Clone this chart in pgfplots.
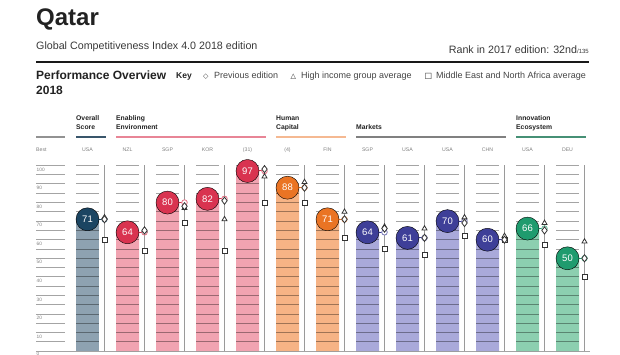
\documentclass[border=0pt]{standalone}
\usepackage{pgfplots}
\pgfplotsset{compat=1.18}
\usepackage{pgfplotstable}
\usepackage{fontspec}
\setmainfont{Liberation Sans}
\newfontfamily\sym{DejaVu Sans}

\definecolor{ovBar}{HTML}{8EA2B1}
\definecolor{ovCir}{HTML}{1B4562}
\definecolor{enBar}{HTML}{F1A3B1}
\definecolor{enCir}{HTML}{D93350}
\definecolor{hcBar}{HTML}{F6B385}
\definecolor{hcCir}{HTML}{EA7424}
\definecolor{mkBar}{HTML}{A9A9DA}
\definecolor{mkCir}{HTML}{3E3F98}
\definecolor{inBar}{HTML}{8CCFB0}
\definecolor{inCir}{HTML}{1F9B6E}
\definecolor{gridc}{HTML}{A4A4A4}
\definecolor{vline}{HTML}{9A9A9A}
\definecolor{txt}{HTML}{222222}
\definecolor{keyc}{HTML}{444444}
\definecolor{lab}{HTML}{808080}
\definecolor{mk}{HTML}{333333}

% bar centre x (px) and 2018 score
\pgfplotstableread{
x v
87.5 71
}\gOverall
\pgfplotstableread{
x v
127.5 64
167.5 80
207.5 82
247.5 97
}\gEnabling
\pgfplotstableread{
x v
287.5 88
327.5 71
}\gHuman
\pgfplotstableread{
x v
367.5 64
407.5 61
447.5 70
487.5 60
}\gMarkets
\pgfplotstableread{
x v
527.5 66
567.5 50
}\gInnov
% marker line x, previous edition, high income avg, MENA avg
\pgfplotstableread{
xm prev hi mena
104.5 71 72 60
144.5 65 65 54
184.5 78 77 69
224.5 81 71 54
264.5 98 94 80
304.5 88 91 80
344.5 71 75 61
384.5 66 67 55
424.5 61 66 52
464.5 69 72 62
504.5 60 62 60
544.5 65 69 57
584.5 50 59 40
}\markers

\newcommand\group[3]{%
  \addplot[ybar, bar width=23, bar shift=0pt, fill=#2, draw=none, blend mode=multiply] table[x=x,y=v]{#1};
  \addplot[only marks, mark=-, mark size=8.5pt, mark options={draw=#3, line width=1pt}] table[x expr=\thisrow{x}+8.5,y=v]{#1};
  \addplot[only marks, mark=*, mark size=2.8pt, mark options={fill=white, draw=#3!70, line width=0.8pt}] table[x expr=\thisrow{x}+17,y=v]{#1};
  \addplot[only marks, mark=*, mark size=11.5pt, mark options={fill=#3, draw=none},
    nodes near coords, every node near coord/.append style={anchor=center, text=white, font=\fontsize{9.5}{10}\selectfont}] table[x=x,y=v]{#1};
}

\begin{document}
\begin{tikzpicture}[x=1pt,y=1pt]
\useasboundingbox (0,0) rectangle (620,355);
% column grid lines and vertical marker lines
\foreach \c in {87.5,127.5,...,567.5}{
  \foreach \k in {5,10,...,100}{
    \draw[gridc, line width=1pt] ({\c-11.5},{3.8+1.858*\k}) -- ({\c+11.5},{3.8+1.858*\k});
  }
  \draw[vline, line width=0.8pt] ({\c+17},3.8) -- ({\c+17},189.6);
}
% Best column
\foreach \k in {5,10,...,100}{
  \draw[gridc, line width=1pt] (36,{3.8+1.858*\k}) -- (65,{3.8+1.858*\k});
}
\foreach \k in {10,20,...,100}{
  \node[anchor=west, inner sep=0, text=lab, font=\fontsize{4.8}{5}\selectfont] at (36.5,{3.8+1.858*\k-4}) {\k};
}
\node[anchor=west, inner sep=0, text=lab, font=\fontsize{4.8}{5}\selectfont] at (36.5,1.6) {0};
\draw[gridc, line width=1pt] (36,3.8) -- (590,3.8);

\begin{axis}[at={(0,0)}, anchor=south west, scale only axis, width=620pt, height=355pt,
  xmin=0, xmax=620, ymin=-2.0452, ymax=189.0215, hide axis, clip=false,
  /pgf/number format/assume math mode=true]
\group{\gOverall}{ovBar}{ovCir}
\group{\gEnabling}{enBar}{enCir}
\group{\gHuman}{hcBar}{hcCir}
\group{\gMarkets}{mkBar}{mkCir}
\group{\gInnov}{inBar}{inCir}
\addplot[only marks, mark=square*, mark size=2.5pt, mark options={fill=white, draw=mk, line width=0.8pt}] table[x=xm,y=mena]{\markers};
\addplot[only marks, mark=triangle*, mark size=2.9pt, mark options={fill=white, draw=mk, line width=0.8pt}] table[x=xm,y=hi]{\markers};
\addplot[only marks, mark=diamond*, mark size=3.6pt, mark options={fill=white, draw=mk, line width=0.8pt}] table[x=xm,y=prev]{\markers};
\end{axis}

% header
\node[anchor=base west, inner sep=0, text=txt, font=\fontsize{24}{28}\selectfont\bfseries] at (36,329) {Qatar};
\node[anchor=base west, inner sep=0, text=txt!90, font=\fontsize{10.7}{12}\selectfont] at (36,305.2) {Global Competitiveness Index 4.0 2018 edition};
\node[anchor=base east, inner sep=0, text=txt!90] at (589,301.9) {{\fontsize{10.7}{12}\selectfont Rank in 2017 edition: 32nd}{\fontsize{6}{7}\selectfont/135}};
\draw[black!90, line width=2pt] (36,292.7) -- (589,292.7);
\node[anchor=base west, inner sep=0, text=txt, font=\fontsize{12}{14}\selectfont\bfseries] at (36,275.5) {Performance Overview};
\node[anchor=base west, inner sep=0, text=txt, font=\fontsize{12}{14}\selectfont\bfseries] at (36,260.5) {2018};
\node[anchor=base west, inner sep=0, text=txt, font=\fontsize{8.5}{10}\selectfont\bfseries] at (176,276) {Key};
\node[anchor=base west, inner sep=0, text=keyc, font=\fontsize{7}{9}\selectfont\sym] at (203,276.5) {◇};
\node[anchor=base west, inner sep=0, text=keyc, font=\fontsize{9}{10}\selectfont] at (214,276) {Previous edition};
\node[anchor=base west, inner sep=0, text=txt, font=\fontsize{7}{9}\selectfont\sym\bfseries] at (290.5,276.5) {△};
\node[anchor=base west, inner sep=0, text=keyc, font=\fontsize{9}{10}\selectfont] at (301,276) {High income group average};
\node[anchor=base west, inner sep=0, text=txt, font=\fontsize{8}{9}\selectfont\sym] at (424.5,276) {□};
\node[anchor=base west, inner sep=0, text=keyc, font=\fontsize{9}{10}\selectfont] at (436,276) {Middle East and North Africa average};

% group headers
\tikzset{gh/.style={anchor=base west, inner sep=0, text=txt, font=\fontsize{6.8}{8}\selectfont\bfseries}}
\node[gh] at (76,234.2) {Overall};
\node[gh] at (76,225.8) {Score};
\node[gh] at (116,234.2) {Enabling};
\node[gh] at (116,225.8) {Environment};
\node[gh] at (276,234.2) {Human};
\node[gh] at (276,225.8) {Capital};
\node[gh] at (356,225.8) {Markets};
\node[gh] at (516,234.2) {Innovation};
\node[gh] at (516,225.8) {Ecosystem};
\draw[gridc!120, line width=1.3pt] (36,218) -- (65,218);
\draw[ovCir!70!gray, line width=1.3pt] (76,218) -- (106,218);
\draw[enCir!60!white, line width=1.3pt] (116,218) -- (266,218);
\draw[hcCir!50!white, line width=1.3pt] (276,218) -- (346,218);
\draw[gray, line width=1.3pt] (356,218) -- (506,218);
\draw[inCir!60!gray, line width=1.3pt] (516,218) -- (586,218);

% country labels
\tikzset{cl/.style={anchor=center, inner sep=0, text=lab, font=\fontsize{5.2}{6}\selectfont}}
\node[cl, anchor=west] at (36,205) {Best};
\node[cl] at (87.5,205) {USA};
\node[cl] at (127.5,205) {NZL};
\node[cl] at (167.5,205) {SGP};
\node[cl] at (207.5,205) {KOR};
\node[cl] at (247.5,205) {(31)};
\node[cl] at (287.5,205) {(4)};
\node[cl] at (327.5,205) {FIN};
\node[cl] at (367.5,205) {SGP};
\node[cl] at (407.5,205) {USA};
\node[cl] at (447.5,205) {USA};
\node[cl] at (487.5,205) {CHN};
\node[cl] at (527.5,205) {USA};
\node[cl] at (567.5,205) {DEU};
\end{tikzpicture}
\end{document}
